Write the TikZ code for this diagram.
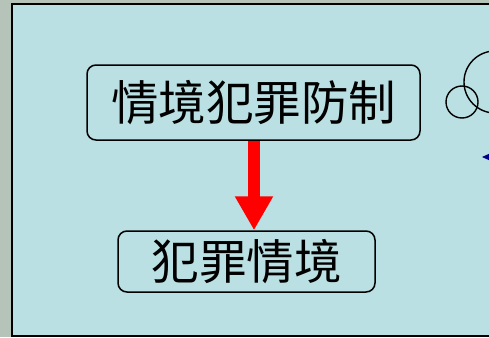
\documentclass[tikz,border=0pt]{standalone}
\usepackage{fontspec}
\usetikzlibrary{arrows.meta,positioning}
\newfontfamily\cjk{Noto Sans CJK TC}
\definecolor{slidegrey}{HTML}{B6C3B8}
\definecolor{panelcyan}{HTML}{BAE0E3}
\definecolor{arrowred}{HTML}{FF0000}
\definecolor{markblue}{HTML}{00008B}

\begin{document}
\begin{tikzpicture}[x=1pt,y=-1pt,every node/.style={align=center,font=\cjk\fontsize{47.5}{47.5}\selectfont}]
\clip (0,0) rectangle (489,337);
\fill[slidegrey] (0,0) rectangle (489,337);
\draw[fill=panelcyan,line width=2pt] (12,4) rectangle (520,336);
\node[draw,line width=1.5pt,rounded corners=9pt,minimum width=333pt,minimum height=75pt,inner sep=0pt] (prevent) at (253.5,102.5) {情境犯罪防制};
\node[draw,line width=1.5pt,rounded corners=9pt,minimum width=257pt,minimum height=61pt,inner sep=0pt] (crime) at (246.5,261.5) {犯罪情境};
\draw[arrowred,line width=12pt,-{Triangle[width=36pt,length=34pt]}] (prevent.south-|254,0) -- (crime.north-|254,0);
\node[draw,circle,line width=1.4pt,minimum size=32pt,inner sep=0pt] (small) at (462,102) {};
\node[draw,circle,line width=1.4pt,minimum size=62pt,inner sep=0pt] (big) at (495,82) {};
\coordinate (tail) at (540,157);
\coordinate (tip) at (482,157);
\draw[markblue,line width=1pt,-{Triangle[width=7pt,length=8pt]}] (tail) -- (tip);
\end{tikzpicture}
\end{document}
